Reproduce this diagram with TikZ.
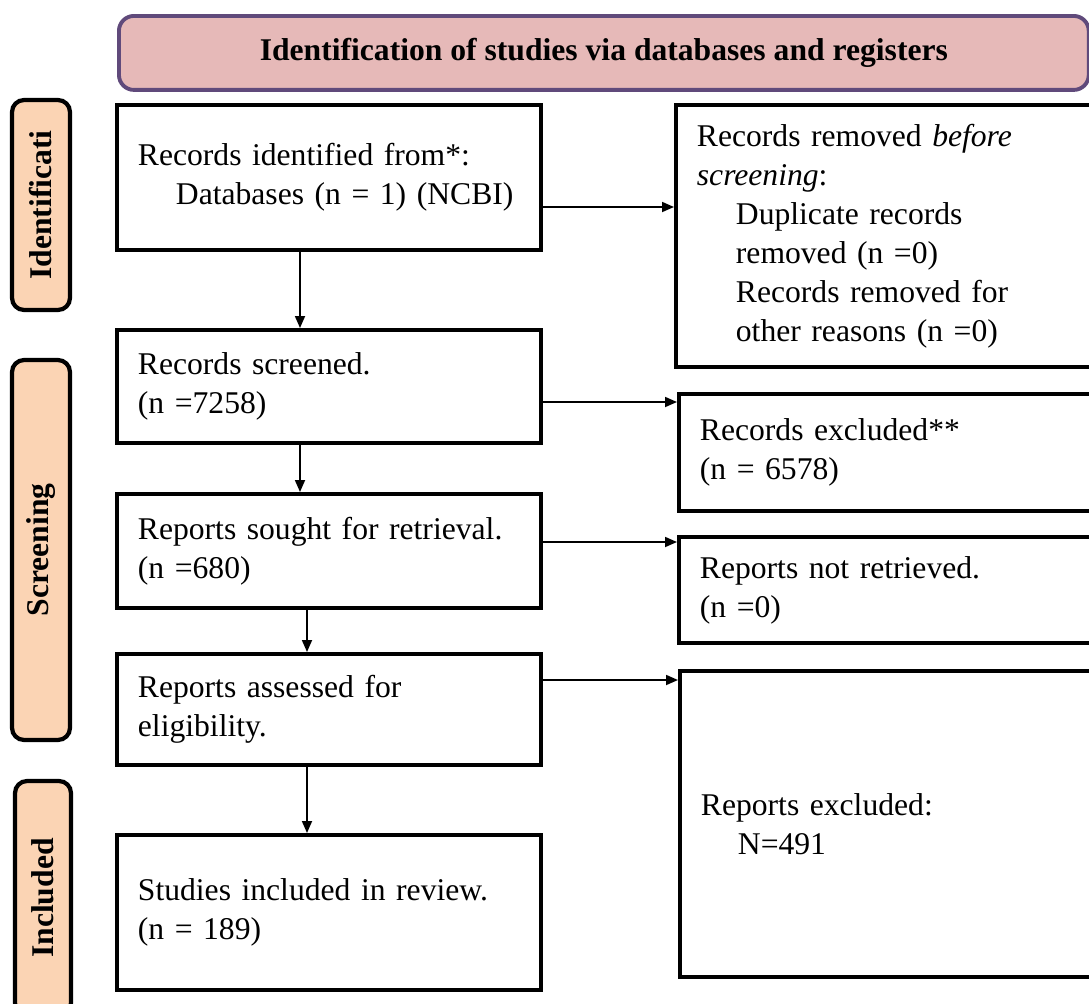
\documentclass[tikz,border=0pt]{standalone}
\usepackage{fontspec}
\setmainfont{Liberation Serif}
\usetikzlibrary{positioning,calc,arrows.meta}
\definecolor{headfill}{HTML}{E6B9B8}
\definecolor{headline}{HTML}{604A7B}
\definecolor{phasefill}{HTML}{FBD4B4}

\begin{document}
\begin{tikzpicture}[x=0.02cm, y=-0.02cm,
        font=\fontsize{18}{22.2}\selectfont,
        box/.style={draw, line width=2.2pt, anchor=north west, align=left, inner xsep=0.42cm, inner ysep=0pt},
        lbox/.style={box, minimum width=8.48cm, text width=7.64cm},
        rbox/.style={box, minimum width=8.8cm, text width=7.96cm},
        phase/.style={draw, line width=2.4pt, rounded corners=0.24cm, fill=phasefill, rotate=90,
            font=\fontsize{18}{22}\selectfont\bfseries, inner sep=0pt},
        arr/.style={-{Triangle[length=0.24cm,width=0.2cm]}, line width=1pt}]
        \useasboundingbox (0,0) rectangle (1089,1004);
        % header
        \node[draw=headline, line width=2.2pt, fill=headfill, rounded corners=0.3cm, anchor=north west,
            minimum width=19.4cm, minimum height=1.48cm, font=\fontsize{18}{22}\selectfont\bfseries] (head) at (117,14)
            {Identification of studies via databases and registers};
        % phase labels
        \node[phase, minimum width=4.2cm, minimum height=1.16cm] (pid) at (41,205) {Identificati};
        \node[phase, minimum width=7.6cm, minimum height=1.16cm] (pscr) at (41,550) {Screening};
        \node[phase, minimum width=4.68cm, minimum height=1.12cm] (pinc) at (43,898) {Included};
        % main column
        \node[lbox, minimum height=2.9cm] (ident) at (115,103)
            {Records identified from*:\\\hspace*{0.76cm}Databases (n = 1) (NCBI)};
        \node[lbox, minimum height=2.26cm] (screen) at (115,328) {Records screened.\\(n =7258)};
        \node[lbox, minimum height=2.28cm] (sought) at (115,492) {Reports sought for retrieval.\\(n =680)};
        \node[lbox, minimum height=2.22cm] (assess) at (115,652) {Reports assessed for\\eligibility.};
        \node[lbox, minimum height=3.1cm] (incl) at (115,833) {Studies included in review.\\(n = 189)};
        % side column
        \node[rbox, minimum height=5.24cm] (removed) at (674,103)
            {Records removed \textit{before}\\\textit{screening}:\\\hspace*{0.78cm}Duplicate records\\\hspace*{0.78cm}removed (n =0)\\\hspace*{0.78cm}Records removed for\\\hspace*{0.78cm}other reasons (n =0)};
        \node[rbox, minimum height=2.34cm] (excl) at (677,392) {Records excluded**\\(n = 6578)};
        \node[rbox, minimum height=2.12cm] (notret) at (677,535) {Reports not retrieved.\\(n =0)};
        \node[rbox, minimum height=6.12cm] (repexcl) at (678,669) {Reports excluded:\\\hspace*{0.74cm}N=491};
        % arrow positions
        \coordinate (vA) at (300,0);
        \coordinate (vB) at (307,0);
        \coordinate (h1) at (0,207);
        \coordinate (h2) at (0,402);
        \coordinate (h3) at (0,542);
        \coordinate (h4) at (0,680);
        \draw[arr] (ident.south -| vA) -- (screen.north -| vA);
        \draw[arr] (screen.south -| vA) -- (sought.north -| vA);
        \draw[arr] (sought.south -| vB) -- (assess.north -| vB);
        \draw[arr] (assess.south -| vB) -- (incl.north -| vB);
        \draw[arr] (ident.east |- h1) -- (removed.west |- h1);
        \draw[arr] (screen.east |- h2) -- (excl.west |- h2);
        \draw[arr] (sought.east |- h3) -- (notret.west |- h3);
        \draw[arr] (assess.east |- h4) -- (repexcl.west |- h4);
\end{tikzpicture}
\end{document}
